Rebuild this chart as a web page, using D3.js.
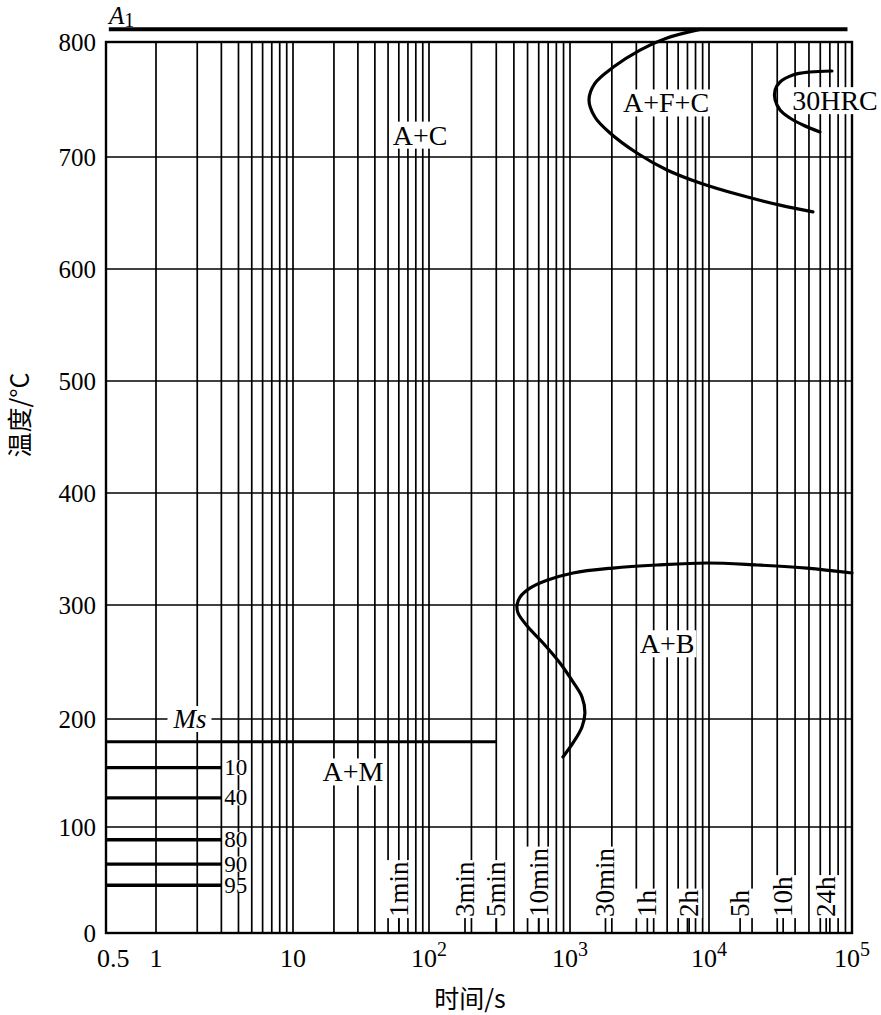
<!DOCTYPE html>
<html>
<head>
<meta charset="utf-8">
<script src="https://cdn.jsdelivr.net/npm/d3@7"></script>
<style>
  body { margin: 0; background: #fff; }
  text { font-family: "Liberation Serif", "Times New Roman", serif; fill: #000; }
  .cjk { font-family: "Noto Sans CJK SC", "Noto Sans", sans-serif; }
</style>
</head>
<body>
<svg id="chart" width="881" height="1015"></svg>
<script>
// axis ticks
const tempTicks = [0, 100, 200, 300, 400, 500, 600, 700, 800];
const timeTicks = [0.5, 1, 10, 100, 1000, 10000, 100000];
const timeTickBase = ['0.5', '1', '10', '10', '10', '10', '10'];
const timeTickExp = ['', '', '', '2', '3', '4', '5'];

// time markers along the bottom
const markNames = ['1min', '3min', '5min', '10min', '30min', '1h', '2h', '5h', '10h', '24h'];
const markTimes = [60, 180, 300, 600, 1800, 3600, 7200, 16500, 33000, 66000];

// A1 and Ms
const a1Temp = 811;
const a1Span = [0.52, 93000];
const msTemp = 179;
const msSpan = [0.5, 300];

// martensite % lines
const martPct = ['10', '40', '80', '90', '95'];
const martTemp = [155, 127, 88, 65, 45];
const martSpan = [0.5, 3];

// curves [time s, temp C]
const pearliteCurve = [
  [8610, 811], [4990, 803.5], [3190, 793], [2040, 778], [1510, 764], [1370, 749.6],
  [1510, 734.8], [1940, 720.9], [3030, 703.5], [4990, 688.4], [8610, 676.8],
  [16500, 666], [31400, 657], [53300, 651]
];
const hrcCurve = [
  [72400, 774.8], [50800, 773.9], [38600, 771.3], [31400, 765.2], [29000, 758.3],
  [29000, 749.6], [31400, 740.9], [36800, 733.9], [45400, 727.8], [59700, 721.7]
];
const bainiteCurve = [
  [891, 164.8], [1051, 177.8], [1220, 192.6], [1280, 205.3], [1220, 219.3], [1051, 232.5],
  [849, 249.1], [644, 266.7], [504, 280.7], [428, 293], [421, 300], [442, 307],
  [520, 315], [687, 322], [1051, 328.6], [2040, 333], [4220, 335.7], [9680, 337.5],
  [21700, 335.7], [48400, 333], [100000, 328.6]
];

// region labels
const regionNames = ['A+C', 'A+F+C', '30HRC', 'A+M', 'A+B'];
const regionTimes = [86, 4910, 76000, 27.6, 4990];
const regionTemps = [719, 747, 749, 151, 266];

const svg = d3.select('#chart');

const x = d3.scaleLog()
  .domain(timeTicks)
  .range([106, 156, 293, 429, 570, 709, 852]);
const y = d3.scaleLinear()
  .domain(tempTicks)
  .range([933, 827, 719, 605, 493, 381, 269, 157, 42]);

const x0 = x(0.5), x1 = x(1e5), yTop = y(800), yBot = y(0);

// grid
const grid = svg.append('g').attr('stroke', '#000').attr('stroke-width', 1.7);
grid.selectAll('.vg')
  .data(x.ticks().filter((t) => t >= 1 && t < 1e5))
  .join('line')
  .attr('x1', (d) => x(d)).attr('x2', (d) => x(d))
  .attr('y1', yTop).attr('y2', yBot);
grid.selectAll('.hg')
  .data(y.ticks(8).filter((t) => t > 0 && t < 800))
  .join('line')
  .attr('x1', x0).attr('x2', x1)
  .attr('y1', (d) => y(d)).attr('y2', (d) => y(d));

// marker stubs
grid.selectAll('.mk')
  .data(markTimes)
  .join('line')
  .attr('x1', (d) => x(d)).attr('x2', (d) => x(d))
  .attr('y1', yBot).attr('y2', y(15));

// frame
svg.append('rect')
  .attr('x', x0).attr('y', yTop)
  .attr('width', x1 - x0).attr('height', yBot - yTop)
  .attr('fill', 'none').attr('stroke', '#000').attr('stroke-width', 2.4);

// thick lines
const thick = svg.append('g').attr('stroke', '#000').attr('stroke-width', 3.4);
thick.append('line')
  .attr('x1', x(a1Span[0])).attr('x2', x(a1Span[1]))
  .attr('y1', y(a1Temp)).attr('y2', y(a1Temp)).attr('stroke-width', 4);
thick.append('line')
  .attr('x1', x(msSpan[0])).attr('x2', x(msSpan[1]))
  .attr('y1', y(msTemp)).attr('y2', y(msTemp)).attr('stroke-width', 3);
thick.selectAll('.mart')
  .data(martTemp)
  .join('line')
  .attr('x1', x(martSpan[0])).attr('x2', x(martSpan[1]))
  .attr('y1', (d) => y(d)).attr('y2', (d) => y(d));

// curves
const line = d3.line()
  .x((d) => x(d[0]))
  .y((d) => y(d[1]))
  .curve(d3.curveCatmullRom.alpha(0.5));
svg.append('g')
  .selectAll('path')
  .data([pearliteCurve, hrcCurve, bainiteCurve])
  .join('path')
  .attr('d', line)
  .attr('fill', 'none')
  .attr('stroke', '#000')
  .attr('stroke-width', 3.2)
  .attr('stroke-linecap', 'round');

// label with white box
function boxLabel(parent, tx, ty, rot, txt, opts = {}) {
  const g = parent.append('g')
    .attr('transform', `translate(${tx},${ty}) rotate(${rot})`);
  const r = g.append('rect').attr('fill', '#fff');
  const t = g.append('text')
    .attr('font-size', opts.size || 25)
    .attr('text-anchor', opts.anchor || 'middle')
    .attr('dominant-baseline', 'central')
    .attr('font-style', opts.italic ? 'italic' : null)
    .text(txt);
  const b = t.node().getBBox();
  const p = opts.pad == null ? 2 : opts.pad;
  const cut = opts.cut == null ? 2 : opts.cut;
  r.attr('x', b.x - p).attr('y', b.y + cut)
    .attr('width', b.width + 2 * p).attr('height', b.height - 2 * cut);
  return g;
}

const labels = svg.append('g');

// regions
regionNames.forEach((n, i) => {
  boxLabel(labels, x(regionTimes[i]), y(regionTemps[i]), 0, n, { size: 28 });
});

// Ms
boxLabel(labels, x(1.77), y(200), 0, 'Ms', { size: 27, italic: true, pad: 5 });

// martensite %
martPct.forEach((n, i) => {
  boxLabel(labels, x(martSpan[1]) + 3, y(martTemp[i]), 0, n,
    { size: 23, anchor: 'start', pad: 1, cut: 5 });
});

// time markers
markNames.forEach((n, i) => {
  boxLabel(labels, x(markTimes[i]), y(15), -90, n, { size: 27, anchor: 'start', pad: 1 });
});

// A1 label
const a1 = svg.append('text')
  .attr('x', 109).attr('y', y(a1Temp) - 5)
  .attr('font-size', 25);
a1.append('tspan').attr('font-style', 'italic').text('A');
a1.append('tspan').attr('font-size', 20).attr('dy', 3).text('1');

// y tick labels
svg.append('g')
  .selectAll('text')
  .data(tempTicks)
  .join('text')
  .attr('x', 96)
  .attr('y', (d) => y(d))
  .attr('text-anchor', 'end')
  .attr('dominant-baseline', 'central')
  .attr('font-size', 25)
  .text((d) => d);

// x tick labels
const xt = svg.append('g')
  .selectAll('text')
  .data(timeTicks)
  .join('text')
  .attr('x', (d, i) => (i === 0 ? x(d) - 9 : x(d)))
  .attr('y', 967)
  .attr('text-anchor', (d, i) => (i === 0 ? 'start' : 'middle'))
  .attr('font-size', 26);
xt.append('tspan').text((d, i) => timeTickBase[i]);
xt.append('tspan')
  .attr('font-size', 20)
  .attr('dy', -11)
  .text((d, i) => timeTickExp[i]);

// axis titles
svg.append('text')
  .attr('class', 'cjk')
  .attr('x', 470).attr('y', 1008)
  .attr('text-anchor', 'middle')
  .attr('font-size', 25)
  .text('时间/s');
svg.append('text')
  .attr('class', 'cjk')
  .attr('transform', 'translate(18,415) rotate(-90)')
  .attr('text-anchor', 'middle')
  .attr('dominant-baseline', 'central')
  .attr('font-size', 25)
  .text('温度/°C');
</script>
</body>
</html>
